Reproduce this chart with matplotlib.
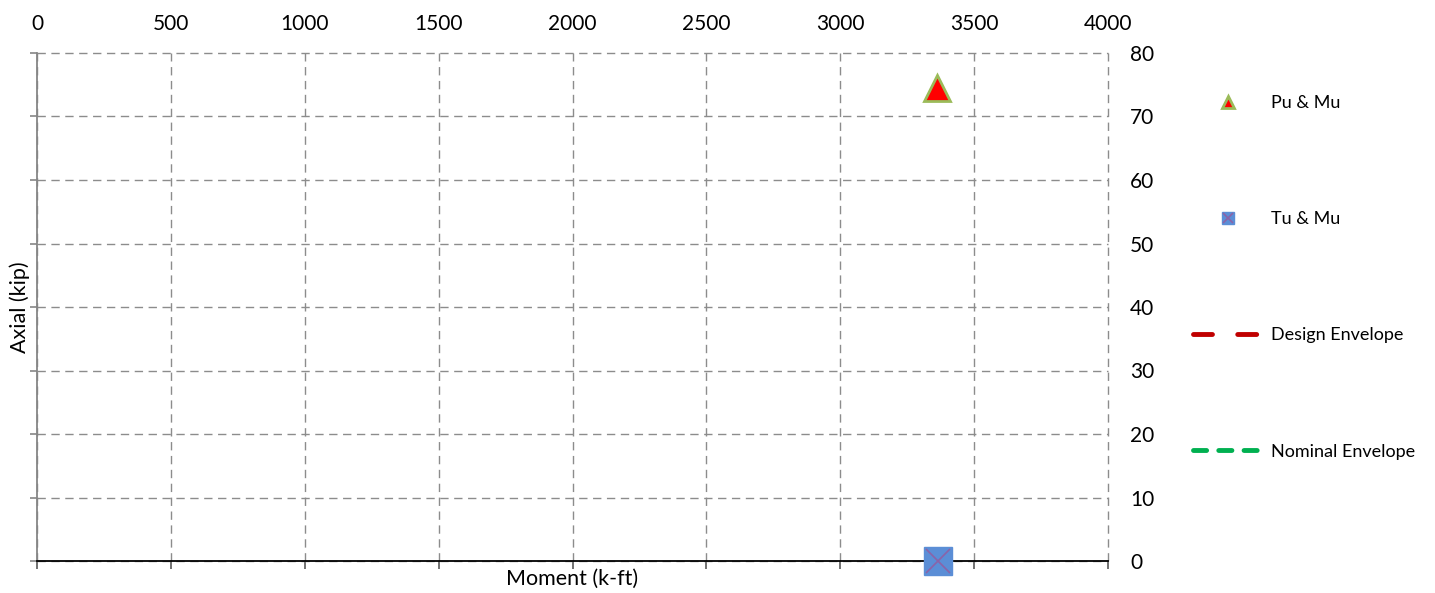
import matplotlib
matplotlib.use('Agg')
import matplotlib.pyplot as plt
from matplotlib.legend_handler import HandlerTuple

plt.rcParams['font.family'] = ['Lato', 'DejaVu Sans']

# data
pu_moment = [3360]
pu_axial = [74.5]
tu_moment = [3365]
tu_axial = [0]
design_moment = []
design_axial = []
nominal_moment = []
nominal_axial = []

x_ticks = list(range(0, 4001, 500))
y_ticks = list(range(0, 81, 10))

fig = plt.figure(figsize=(14.35, 5.93), dpi=100)
ax = fig.add_axes([37 / 1435, 32 / 593, (1108 - 37) / 1435, (561 - 53) / 593])

# envelopes (no points in this case)
des, = ax.plot(design_moment, design_axial, color='#C00000', lw=3.5,
               dashes=(3.9, 5.2), dash_capstyle='round', label='Design Envelope')
nom, = ax.plot(nominal_moment, nominal_axial, color='#00B050', lw=3.5,
               dashes=(2.7, 2.5), dash_capstyle='round', label='Nominal Envelope')

# load points
pu, = ax.plot(pu_moment, pu_axial, ls='none', marker='^', ms=19,
              mfc='#FF0000', mec='#9BBB59', mew=2, clip_on=False, zorder=5)
sq, = ax.plot(tu_moment, tu_axial, ls='none', marker='s', ms=20,
              mfc='#5B8ED6', mec='#5B8ED6', clip_on=False, zorder=5)
xx, = ax.plot(tu_moment, tu_axial, ls='none', marker='x', ms=17,
              mec='#8B63A8', mew=1.2, clip_on=False, zorder=6)

ax.set_xlim(0, 4000)
ax.set_ylim(0, 80)
ax.set_xticks(x_ticks)
ax.set_yticks(y_ticks)

ax.grid(True, color='#8C8C8C', ls=(0, (6, 4)), lw=1.0)
for gl in ax.get_xgridlines() + ax.get_ygridlines():
    gl.set_clip_on(False)
ax.set_axisbelow(True)

for s in ['top', 'right']:
    ax.spines[s].set_visible(False)
ax.spines['left'].set_color('#868686')
ax.spines['left'].set_linewidth(1.3)
ax.spines['left'].set_zorder(3)
ax.spines['bottom'].set_color('black')
ax.spines['bottom'].set_linewidth(1.3)
ax.spines['bottom'].set_zorder(3)

ax.tick_params(axis='x', bottom=True, top=False, labelbottom=False, labeltop=True,
               direction='out', length=6, width=1.2, color='#595959', pad=8,
               labelsize=15)
ax.tick_params(axis='y', left=True, right=False, labelleft=False, labelright=True,
               direction='out', length=5, width=1.2, color='#868686', pad=11,
               labelsize=15)

ax.set_xlabel('Moment (k-ft)', fontsize=15.5, labelpad=0)
ax.set_ylabel('Axial (kip)', fontsize=15.5, labelpad=0)

leg = ax.legend([pu, (sq, xx), des, nom],
                ['Pu & Mu', 'Tu & Mu', 'Design Envelope', 'Nominal Envelope'],
                handler_map={tuple: HandlerTuple(ndivide=1, pad=0)},
                loc='upper left', bbox_to_anchor=(1156 / 1071, 1 - 42 / 508),
                frameon=False, fontsize=13, markerscale=0.45,
                handlelength=3.85, handletextpad=0.45, labelspacing=5.55,
                borderaxespad=0, borderpad=0)

fig.savefig('out.png', dpi=100)
